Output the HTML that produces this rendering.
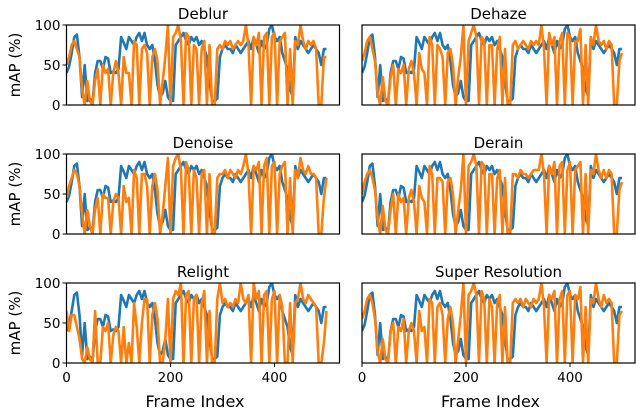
<!DOCTYPE html>
<html><head><meta charset="utf-8"><style>
body{margin:0;background:#fff}
svg{display:block;font-family:"DejaVu Sans","Liberation Sans",sans-serif}
</style></head><body>
<svg id="chart" width="636" height="412" viewBox="0 0 636 412" xmlns="http://www.w3.org/2000/svg"></svg>
<script>
const panelTitles = ["Deblur","Dehaze","Denoise","Derain","Relight","Super Resolution"];
const frameStep = 5;
const yTicks = [0,50,100];
const xTicks = [0,200,400];
const blueValues = [40,48,65,85,88,60,10,50,5,8,2,40,55,55,45,60,58,40,42,40,45,85,78,70,85,80,75,85,90,80,90,75,70,75,55,25,10,15,30,10,5,5,75,80,85,90,80,75,85,80,85,75,80,70,60,30,5,5,8,60,70,75,70,70,65,75,70,65,70,75,80,70,85,75,65,80,70,75,95,100,85,80,85,65,55,45,20,10,85,70,80,75,70,65,70,75,70,65,50,70,70];
const orangeDeblur = [50,60,75,80,70,60,20,0,30,5,0,30,45,0,50,40,45,0,40,55,40,0,60,40,40,0,80,75,0,70,75,65,0,60,70,55,0,30,60,100,0,85,90,100,80,0,90,85,0,75,70,0,70,80,0,75,0,0,70,75,70,80,75,80,70,75,80,75,80,100,75,0,85,75,90,0,85,90,0,85,90,0,80,85,90,0,70,0,80,75,100,80,70,80,75,80,70,0,0,60,60];
const orangeDehaze = [55,65,80,85,70,55,15,0,35,5,0,35,50,0,45,40,50,0,45,55,40,0,65,45,40,0,85,75,0,75,70,60,0,65,70,50,0,35,60,100,0,80,90,100,85,0,85,80,0,75,75,0,70,85,0,70,0,0,75,80,70,75,80,75,70,80,75,80,75,100,70,0,90,75,85,0,80,90,0,90,85,0,80,80,95,0,75,0,85,75,100,80,75,80,70,80,75,0,0,55,65];
const orangeDenoise = [45,60,70,80,75,60,25,0,30,10,0,30,45,0,50,45,45,0,40,50,45,0,60,40,45,0,80,70,0,75,75,60,0,60,75,55,0,25,60,95,0,85,95,100,80,0,90,80,0,80,70,0,75,80,0,75,0,0,70,75,75,80,70,80,75,70,80,75,85,100,75,0,85,80,90,0,85,95,0,85,90,0,75,85,90,0,70,0,80,70,95,80,75,85,75,75,70,0,0,45,70];
const orangeDerain = [50,65,75,80,70,55,20,0,35,5,0,30,50,0,50,40,45,0,45,55,40,0,60,45,40,0,85,75,0,70,70,65,0,65,70,50,0,30,55,100,0,85,90,100,85,0,90,85,0,75,75,0,70,80,0,70,0,0,75,75,70,80,75,75,70,75,80,80,80,100,75,0,85,75,90,0,85,90,0,80,90,0,80,85,90,0,75,0,80,75,100,80,70,80,70,80,75,0,0,55,65];
const orangeRelight = [65,40,60,60,45,30,5,0,20,5,0,65,0,0,45,40,50,0,35,45,40,0,45,0,25,0,75,45,0,50,80,80,0,60,75,55,0,0,30,80,0,80,90,85,100,0,85,90,0,80,85,0,75,90,0,65,0,0,80,100,75,80,70,75,70,80,75,100,80,75,85,0,100,80,90,0,85,90,0,80,90,0,85,70,0,0,75,0,75,80,100,80,75,85,80,75,70,0,0,25,65];
const orangeSuperRes = [55,65,80,85,75,55,15,0,30,5,0,40,50,0,45,40,55,0,40,50,40,0,65,40,45,0,80,75,0,70,75,60,0,55,70,50,0,30,60,100,0,85,90,100,85,0,90,80,0,80,70,0,75,85,0,70,0,0,75,80,75,80,70,80,75,70,80,75,80,100,70,0,85,80,90,0,80,90,0,85,90,0,85,80,95,0,70,0,80,75,100,80,70,85,75,80,75,0,0,60,65];
const orangeSeries = [orangeDeblur,orangeDehaze,orangeDenoise,orangeDerain,orangeRelight,orangeSuperRes];

const NS="http://www.w3.org/2000/svg";
const svg=document.getElementById('chart');
function mk(tag,attrs,parent){const e=document.createElementNS(NS,tag);for(const k in attrs)e.setAttribute(k,attrs[k]);(parent||svg).appendChild(e);return e;}
const colX=[66.5,362], rowY=[25,154,283], W=273, H=80, pxPerFrame=0.52;
const defs=mk('defs',{});
panelTitles.forEach((title,p)=>{
  const c=p%2, r=Math.floor(p/2);
  const x0=colX[c], y0=rowY[r];
  const xs=f=>x0+f*pxPerFrame;
  const ys=v=>y0+H-v/100*H;
  const g=mk('g',{});
  
  
  const cp=mk('clipPath',{id:'cp'+p},defs);
  mk('rect',{x:x0,y:y0,width:W,height:H},cp);
  const lines=[[blueValues,'#1f77b4','blue-line'],[orangeSeries[p],'#ff7f0e','orange-line']];
  lines.forEach(([vals,col,nm])=>{
    const d=vals.map((v,i)=>(i?'L':'M')+xs(i*frameStep).toFixed(1)+' '+ys(v).toFixed(1)).join(' ');
    const path=mk('path',{d:d,fill:'none',stroke:col,'stroke-width':2.6,'stroke-linejoin':'round','clip-path':'url(#cp'+p+')'},g);
    
    
  });
  const frame=mk('rect',{x:x0,y:y0,width:W,height:H,fill:'none',stroke:'#000','stroke-width':1.2},g);
  
  
  const t=mk('text',{x:x0+W/2,y:y0-6,'text-anchor':'middle','font-size':15},g);
  t.textContent=title;
  
  
  if(c===0){
    yTicks.forEach(v=>{
      mk('line',{x1:x0-4,x2:x0,y1:ys(v),y2:ys(v),stroke:'#000'},g);
      const tl=mk('text',{x:x0-6,y:ys(v)+5,'text-anchor':'end','font-size':13.5},g);
      tl.textContent=v;
      
      
    });
    const yl=mk('text',{x:0,y:0,'text-anchor':'middle','font-size':15,transform:'translate(20,'+(y0+H/2)+') rotate(-90)'},g);
    yl.textContent='mAP (%)';
    
    
  }
  if(r===2){
    xTicks.forEach(v=>{
      mk('line',{x1:xs(v),x2:xs(v),y1:y0+H,y2:y0+H+4,stroke:'#000'},g);
      const tl=mk('text',{x:xs(v),y:y0+H+19,'text-anchor':'middle','font-size':13.5},g);
      tl.textContent=v;
      
      
    });
    const xl=mk('text',{x:x0+W/2-8,y:407,'text-anchor':'middle','font-size':16},g);
    xl.textContent='Frame Index';
    
    
  }
});
</script>
</body></html>
